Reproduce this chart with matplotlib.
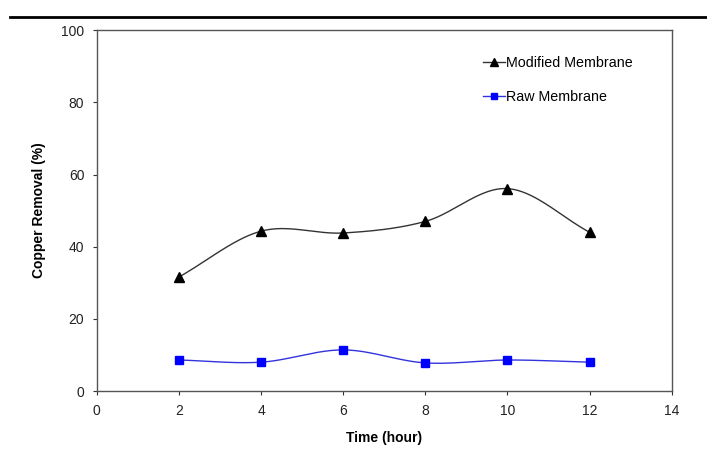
import numpy as np
import matplotlib
matplotlib.use("Agg")
import matplotlib.pyplot as plt
from matplotlib.lines import Line2D

plt.rcParams["font.family"] = ["Liberation Sans", "DejaVu Sans"]

time_h = [2, 4, 6, 8, 10, 12]
modified = [31.6, 44.3, 43.8, 47.0, 56.1, 44.0]
raw = [8.6, 8.0, 11.4, 7.8, 8.6, 8.0]


def smooth(x, y, n=40):
    # Catmull-Rom style curve through the points (like Excel's smoothed line)
    x = np.asarray(x, float)
    y = np.asarray(y, float)
    px = np.concatenate([[2 * x[0] - x[1]], x, [2 * x[-1] - x[-2]]])
    py = np.concatenate([[2 * y[0] - y[1]], y, [2 * y[-1] - y[-2]]])
    xs, ys = [], []
    t = np.linspace(0, 1, n)
    for i in range(1, len(px) - 2):
        p0, p1, p2, p3 = [np.array([px[j], py[j]]) for j in (i - 1, i, i + 1, i + 2)]
        c1 = p1 + (p2 - p0) / 6
        c2 = p2 - (p3 - p1) / 6
        pts = ((1 - t) ** 3)[:, None] * p1 + (3 * (1 - t) ** 2 * t)[:, None] * c1 \
            + (3 * (1 - t) * t ** 2)[:, None] * c2 + (t ** 3)[:, None] * p2
        xs.append(pts[:, 0])
        ys.append(pts[:, 1])
    return np.concatenate(xs), np.concatenate(ys)


fig = plt.figure(figsize=(7.07, 4.5), dpi=100)
ax = fig.add_axes([0.137, 0.131, 0.813, 0.802])

sx, sy = smooth(time_h, modified)
ax.plot(sx, sy, color="#333333", lw=1.0)
ax.plot(time_h, modified, ls="none", marker="^", color="black", ms=6.5)

sx, sy = smooth(time_h, raw)
ax.plot(sx, sy, color="#3333dd", lw=1.0)
ax.plot(time_h, raw, ls="none", marker="s", color="#0000ff", ms=5.5)

ax.set_xlim(0, 14)
ax.set_ylim(0, 100)
ax.set_xticks(range(0, 15, 2))
ax.set_yticks(range(0, 101, 20))
ax.tick_params(direction="out", length=3, width=0.8, color="#333333",
               labelsize=10, labelcolor="#222222")
ax.tick_params(axis="x", pad=6)
ax.tick_params(axis="y", pad=6)
for sp in ax.spines.values():
    sp.set_color("#555555")
    sp.set_linewidth(1.0)

ax.set_xlabel("Time (hour)", fontsize=10, fontweight="bold", labelpad=10)
ax.set_ylabel("Copper Removal (%)", fontsize=10, fontweight="bold", labelpad=11)

handles = [
    Line2D([], [], color="#333333", lw=1.0, marker="^", ms=6, mfc="black", mec="black"),
    Line2D([], [], color="#3333dd", lw=1.0, marker="s", ms=5, mfc="#0000ff", mec="#0000ff"),
]
ax.legend(handles, ["Modified Membrane", "Raw Membrane"], loc="upper left",
          bbox_to_anchor=(0.65, 0.965), frameon=False, fontsize=10.3,
          handlelength=1.5, handletextpad=0.1, labelspacing=1.45)

fig.add_artist(Line2D([0.014, 1.0], [0.963, 0.963], color="black", lw=2,
                      transform=fig.transFigure))

fig.savefig("out.png", dpi=100)
